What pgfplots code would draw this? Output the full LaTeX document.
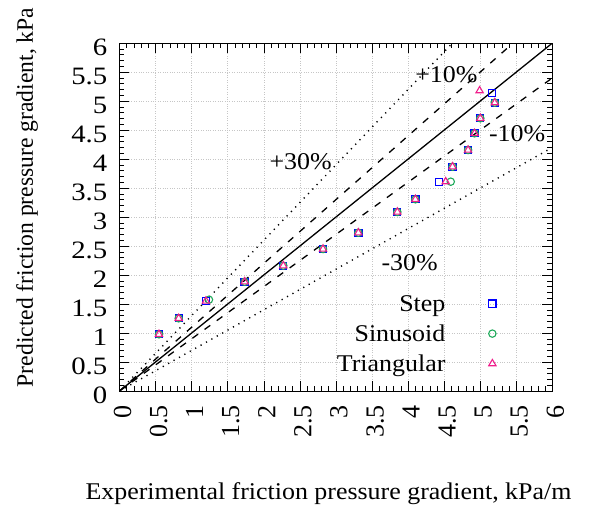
\documentclass[border=0pt]{standalone}
\usepackage{fontspec}
\setmainfont{Liberation Serif}[FakeStretch=1.08]
\newfontfamily\rotfont{Liberation Serif}
\newfontfamily\tickfont{Liberation Serif}[FakeStretch=1.15]
\usepackage{pgfplots}
\pgfplotsset{compat=1.18}
\usetikzlibrary{calc}
\definecolor{stepc}{RGB}{0,0,255}
\definecolor{sinc}{RGB}{30,170,90}
\definecolor{tric}{RGB}{240,30,140}
\pgfplotstableread{
x y
0.547 0.978
0.82 1.253
1.198 1.552
1.734 1.884
2.27 2.160
2.82 2.448
3.31 2.729
3.85 3.086
4.10 3.305
4.425 3.609
4.615 3.867
4.83 4.155
4.92 4.443
5.00 4.702
5.20 4.971
5.16 5.133
}\stepdata
\pgfplotstableread{
x y
0.547 0.978
0.82 1.253
1.24 1.574
1.734 1.884
2.27 2.160
2.82 2.448
3.31 2.729
3.85 3.086
4.10 3.305
4.59 3.609
4.615 3.867
4.83 4.155
4.92 4.443
5.00 4.702
5.20 4.971
}\sindata
\pgfplotstableread{
x y
0.547 0.978
0.82 1.253
1.198 1.552
1.734 1.884
2.27 2.160
2.82 2.448
3.31 2.729
3.85 3.086
4.10 3.305
4.52 3.609
4.615 3.867
4.83 4.155
4.92 4.443
5.00 4.702
5.20 4.971
4.99 5.178
}\tridata
\newcommand\fs{\fontsize{24bp}{28bp}\selectfont}
\begin{document}
\begin{tikzpicture}
\begin{axis}[name=ax, scale only axis, width=433bp, height=348bp,
  xmin=0, xmax=6, ymin=0, ymax=6,
  xtick={0,0.5,1,1.5,2,2.5,3,3.5,4,4.5,5,5.5,6},
  ytick={0,0.5,1,1.5,2,2.5,3,3.5,4,4.5,5,5.5,6},
  minor tick num=4,
  tick align=inside,
  major tick length=10bp, minor tick length=5bp,
  grid=major,
  major grid style={dotted, gray!45, line width=0.6bp},
  axis line style={black, line width=0.8bp},
  every tick/.style={black, line width=0.6bp},
  /pgf/number format/assume math mode=true,
  xticklabel={\rotfont\fontsize{26bp}{28bp}\selectfont\pgfmathprintnumber{\tick}},
  yticklabel={\tickfont\fontsize{25bp}{28bp}\selectfont\pgfmathprintnumber{\tick}},
  xticklabel style={xshift=3bp, rotate=90, anchor=east, inner sep=0pt},
  xticklabel shift=14bp,
  yticklabel style={anchor=east, inner sep=0pt, yshift=-4bp},
  yticklabel shift=12bp,
  xlabel={Experimental friction pressure gradient, kPa/m},
  ylabel={Predicted friction pressure gradient, kPa},
  xlabel style={at={(axis description cs:0.4827,-0.3132)}, anchor=base, font=\fs, inner sep=0pt},
  ylabel style={at={(axis description cs:-0.1998,0.5560)}, anchor=base, font=\rotfont\fontsize{23.6bp}{28bp}\selectfont, inner sep=0pt},
  legend style={draw=none, fill=none, at={(axis cs:5.444,0.955)}, anchor=east, inner sep=0pt, outer sep=0pt,
    nodes={inner sep=0pt, text height=17bp, text depth=6bp, font=\fs}, column sep=27bp, row sep=7bp},
  legend cell align=right,
  legend plot pos=right,
  myleg/.style={legend image code/.code={\pgfpathrectangle{\pgfpoint{0bp}{-2bp}}{\pgfpoint{40bp}{4bp}}\pgfusepath{discard}\draw[##1] plot coordinates {(20bp,2bp)};}},
]
\addplot[black, line width=1.3bp, forget plot] coordinates {(0,0) (6,6)};
\addplot[black, line width=1.3bp, dash pattern=on 7bp off 8bp, forget plot] coordinates {(0,0) (6,6.6)};
\addplot[black, line width=1.3bp, dash pattern=on 7bp off 8bp, forget plot] coordinates {(0,0) (6,5.4)};
\addplot[black, line width=1.4bp, dash pattern=on 1.2bp off 5bp, forget plot] coordinates {(0,0) (6,7.8)};
\addplot[black, line width=1.4bp, dash pattern=on 1.2bp off 5bp, forget plot] coordinates {(0,0) (6,4.2)};
\addplot[only marks, mark=square, mark size=3.6bp, color=stepc, mark options={line width=1.1bp, solid}, myleg] table {\stepdata};
\addlegendentry{Step}
\addplot[only marks, mark=o, mark size=3.7bp, color=sinc, mark options={line width=1.1bp, solid}, myleg] table {\sindata};
\addlegendentry{Sinusoid}
\addplot[only marks, mark=triangle, mark size=4.2bp, color=tric, mark options={line width=1.1bp, solid}, myleg] table {\tridata};
\addlegendentry{Triangular}
\node[font=\fs] at (axis cs:2.51,3.95) {+30\%};
\node[font=\fs] at (axis cs:4.53,5.45) {+10\%};
\node[font=\fs] at (axis cs:5.51,4.43) {-10\%};
\node[font=\fs] at (axis cs:4.02,2.21) {-30\%};
\end{axis}
\pgfresetboundingbox
\path ($(ax.south west)+(-119.5bp,-117bp)$) rectangle ($(ax.north east)+(50.5bp,43bp)$);
\end{tikzpicture}
\end{document}
